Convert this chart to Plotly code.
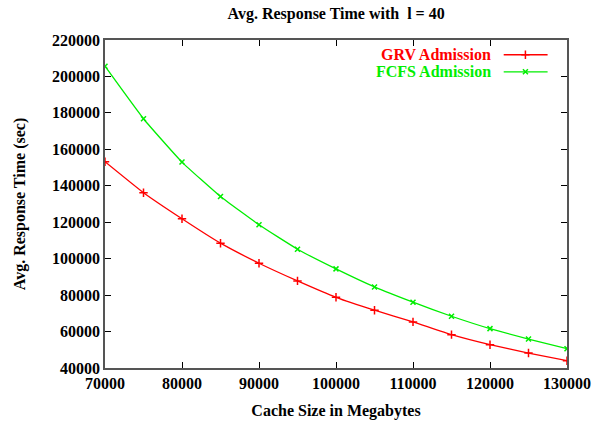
import plotly.graph_objects as go

cache_size = [70000, 75000, 80000, 85000, 90000, 95000, 100000, 105000, 110000, 115000, 120000, 125000, 130000]
grv = [153200, 136200, 121900, 108500, 97500, 87800, 78800, 71700, 65300, 58300, 52800, 48200, 44000]
fcfs = [205600, 176800, 153000, 134100, 118600, 105200, 94400, 84500, 76100, 68400, 61600, 55900, 50600]

x_ticks = [70000, 80000, 90000, 100000, 110000, 120000, 130000]
y_ticks = [40000, 60000, 80000, 100000, 120000, 140000, 160000, 180000, 200000, 220000]

RED = "#ff0000"
GREEN = "#00ee00"
FONT = "Liberation Serif"

fig = go.Figure()
fig.add_trace(go.Scatter(x=cache_size, y=grv, mode="lines+markers", name="GRV Admission",
                         line=dict(color=RED, width=1.3, shape="spline", smoothing=0.4),
                         marker=dict(symbol="cross-thin", size=6, line=dict(color=RED, width=1.5))))
fig.add_trace(go.Scatter(x=cache_size, y=fcfs, mode="lines+markers", name="FCFS Admission",
                         line=dict(color=GREEN, width=1.3, shape="spline", smoothing=0.4),
                         marker=dict(symbol="x-thin", size=5, line=dict(color=GREEN, width=1.5))))

# legend samples (text right, sample on right as in gnuplot)
leg = [("GRV Admission", RED, "cross-thin", 6, 0.955), ("FCFS Admission", GREEN, "x-thin", 5, 0.903)]
for name, col, sym, sz, yy in leg:
    fig.add_annotation(xref="paper", yref="paper", x=0.84, y=yy, text="<b>%s</b>" % name,
                       showarrow=False, xanchor="right", yanchor="middle",
                       font=dict(family=FONT, size=16, color=col))
    fig.add_shape(type="line", xref="paper", yref="paper", x0=0.863, x1=0.958, y0=yy, y1=yy,
                  line=dict(color=col, width=1.3))
    fig.add_trace(go.Scatter(x=[0.91], y=[yy], xaxis="x2", yaxis="y2", mode="markers", showlegend=False,
                             marker=dict(symbol=sym, size=sz, line=dict(color=col, width=1.5)),
                             hoverinfo="skip"))

axis_common = dict(showline=True, linecolor="#555555", linewidth=1.5, mirror="ticks",
                   ticks="inside", ticklen=6, tickcolor="#000000", showgrid=False, zeroline=False,
                   automargin=False,
                   tickfont=dict(family=FONT, size=16, color="black"))

fig.update_layout(
    width=595, height=428,
    margin=dict(l=105, r=28, t=40, b=60, autoexpand=False),
    paper_bgcolor="white", plot_bgcolor="white",
    showlegend=False,
    title=dict(text="<b>Avg. Response Time with\u00a0 l = 40</b>", x=0.565, xanchor="center",
               y=0.968, yanchor="middle", font=dict(family=FONT, size=16, color="black")),
    xaxis=dict(range=[70000, 130000], tickvals=x_ticks, ticktext=["<b>%d</b>" % v for v in x_ticks],
               title=dict(text="<b>Cache Size in Megabytes</b>", standoff=14,
                          font=dict(family=FONT, size=16, color="black")), **axis_common),
    yaxis=dict(range=[40000, 220000], tickvals=y_ticks, ticktext=["<b>%d</b>" % v for v in y_ticks],
               title=dict(text="<b>Avg. Response Time (sec)</b>", standoff=22,
                          font=dict(family=FONT, size=16, color="black")), **axis_common),
    xaxis2=dict(overlaying="x", range=[0, 1], visible=False),
    yaxis2=dict(overlaying="y", range=[0, 1], visible=False),
)

fig.write_html("out.html")
